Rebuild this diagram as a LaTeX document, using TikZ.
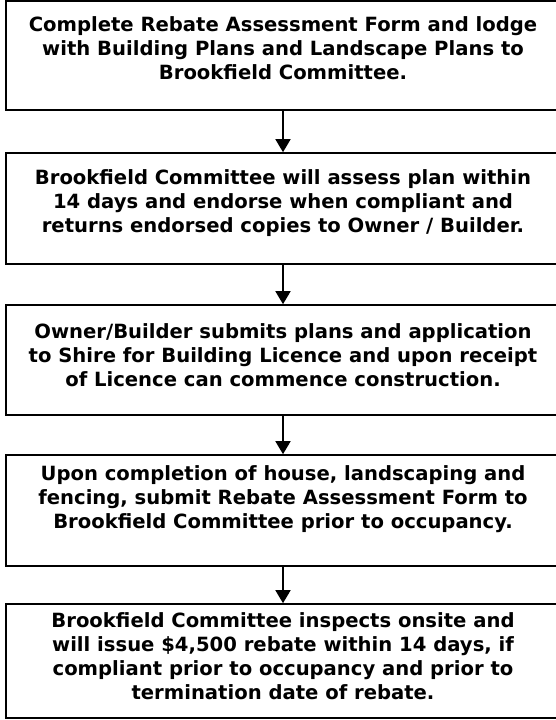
\documentclass[tikz,border=0pt]{standalone}
\usepackage{fontspec}
\setmainfont{DejaVu Sans}
\usetikzlibrary{arrows.meta}
\tikzset{
  stepbox/.style={draw=black, line width=1.6pt, minimum width=554pt, inner sep=0pt, fill=white},
  steptext/.style={anchor=base, align=center, inner sep=0pt, font=\bfseries\fontsize{19.6}{24}\selectfont},
  flowarrow/.style={line width=1.6pt, -{Triangle[width=15pt,length=13pt]}}
}
\begin{document}
\begin{tikzpicture}[x=1pt,y=-1pt]
\useasboundingbox (0,0) rectangle (556,720);
\clip (0,0) rectangle (556,720);
\node[stepbox, minimum height=109pt] (b1) at (283,55.5) {};
\node[stepbox, minimum height=111pt] (b2) at (283,208.5) {};
\node[stepbox, minimum height=110pt] (b3) at (283,360) {};
\node[stepbox, minimum height=111pt] (b4) at (283,510.5) {};
\node[stepbox, minimum height=114pt] (b5) at (283,661) {};
\node[steptext] (t1) at (283,79) {Complete Rebate Assessment Form and lodge\\with Building Plans and Landscape Plans to\\Brookfield Committee.};
\node[steptext] (t2) at (283,232) {Brookfield Committee will assess plan within\\14 days and endorse when compliant and\\returns endorsed copies to Owner / Builder.};
\node[steptext] (t3) at (283,386) {Owner/Builder submits plans and application\\to Shire for Building Licence and upon receipt\\of Licence can commence construction.};
\node[steptext] (t4) at (283,528) {Upon completion of house, landscaping and\\fencing, submit Rebate Assessment Form to\\Brookfield Committee prior to occupancy.};
\node[steptext] (t5) at (283,699) {Brookfield Committee inspects onsite and\\will issue \$4,500 rebate within 14 days, if\\compliant prior to occupancy and prior to\\termination date of rebate.};
\draw[flowarrow] (b1.south) -- (b2.north);
\draw[flowarrow] (b2.south) -- (b3.north);
\draw[flowarrow] (b3.south) -- (b4.north);
\draw[flowarrow] (b4.south) -- (b5.north);
\end{tikzpicture}
\end{document}
